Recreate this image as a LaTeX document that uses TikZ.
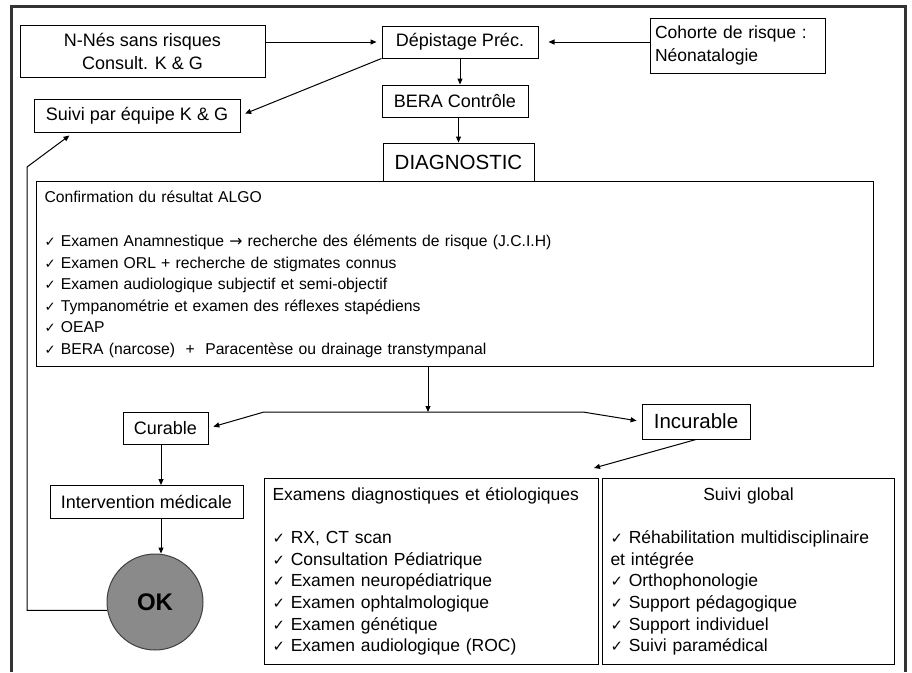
\documentclass[tikz,border=0pt]{standalone}
\usepackage{fontspec}
\setmainfont{Liberation Sans}
\newfontfamily\symfont{DejaVu Sans}
\usepackage{graphicx}
\usepackage{xcolor}
\definecolor{cLine}{HTML}{000000}
\definecolor{cFrame}{HTML}{333333}
\definecolor{cDisc}{HTML}{8A8A8A}
\usepackage{tikz}
\usetikzlibrary{positioning,arrows.meta,calc}
\newcommand\chk{\scalebox{0.85}{\symfont ✓}}
\newcommand\toarr{{\symfont →}}
\tikzset{
  node-box/.style={draw=cLine,line width=1pt,inner sep=0pt,align=center,
    font=\fontsize{18}{23}\selectfont},
  node-big/.style={node-box,font=\fontsize{20.5}{24}\selectfont},
  node-list/.style={draw=cLine,line width=1pt,anchor=north west,align=left,
    inner ysep=7pt,font=\fontsize{17.5}{21.6}\selectfont},
  node-ok/.style={draw=cLine!75,line width=1pt,circle,fill=cDisc,
    minimum size=96pt,font=\fontsize{24}{24}\selectfont\bfseries},
  arrow/.style={-{Triangle[length=6pt,width=5pt]},line width=1pt,draw=cLine},
  arrow-gap/.style={arrow,shorten >=5pt},
  frame/.style={draw=cFrame,line width=3pt},
}
\begin{document}
\begin{tikzpicture}[x=1pt,y=-1pt]
  \useasboundingbox (0,0) rectangle (912,672);
  \draw[frame] (11,672) -- (11,6) -- (905,6) -- (905,672);
  % depistage
  \node[node-box,minimum width=245pt,minimum height=52pt] (nn) at (142.5,51)
    {N-Nés sans risques\\Consult. K \& G};
  \node[node-box,minimum width=156pt,minimum height=32pt] (dep) at (460,42)
    {Dépistage Préc.};
  \node[node-box,align=left,text width=165pt,inner xsep=5pt,
    minimum height=55pt,font=\fontsize{17.5}{23}\selectfont] (coh)
    at (737.5,45.5) {\mbox{Cohorte de risque :}\\Néonatalogie};
  \node[node-box,minimum width=206pt,minimum height=33pt] (suivi)
    at (137,115.5) {Suivi par équipe K \& G};
  \node[node-box,minimum width=146pt,minimum height=32pt] (bera)
    at (455,101) {BERA Contrôle};
  \node[node-big,minimum width=151pt,minimum height=38pt] (diag)
    at (458.5,162) {DIAGNOSTIC};
  % confirmation
  \node[node-list,text width=821pt,inner xsep=8pt,inner ysep=9pt,
    font=\fontsize{15.7}{21.5}\selectfont] (conf) at (36,181)
    {Confirmation du résultat ALGO\\[23pt]
     \chk\ Examen Anamnestique \toarr\ recherche des éléments de risque (J.C.I.H)\\
     \chk\ Examen ORL + recherche de stigmates connus\\
     \chk\ Examen audiologique subjectif et semi-objectif\\
     \chk\ Tympanométrie et examen des réflexes stapédiens\\
     \chk\ OEAP\\
     \chk\ BERA (narcose)\ \ +\ \ Paracentèse ou drainage transtympanal};
  \coordinate (split) at (428,412);
  \coordinate (cl) at (264,412);
  \coordinate (cr) at (583,412);
  \coordinate (col) at (161,0);
  \coordinate (bend) at (27,167);
  % issues
  \node[node-box,minimum width=85pt,minimum height=32pt] (cur)
    at (165.5,428) {Curable};
  \node[node-big,minimum width=108pt,minimum height=35pt] (inc)
    at (696,421.5) {Incurable};
  \node[node-box,minimum width=193pt,minimum height=33pt] (interv)
    at (146.5,502) {Intervention médicale};
  \node[node-ok] (ok) at (155,602) {OK};
  \node[node-list,text width=318pt,inner xsep=8pt,minimum height=186pt]
    (exam) at (264,478)
    {\mbox{Examens diagnostiques et étiologiques}\\[21.6pt]
     \chk\ RX, CT scan\\
     \chk\ Consultation Pédiatrique\\
     \chk\ Examen neuropédiatrique\\
     \chk\ Examen ophtalmologique\\
     \chk\ Examen génétique\\
     \chk\ Examen audiologique (ROC)};
  \node[node-list,text width=276pt,inner xsep=8pt,minimum height=186pt]
    (sg) at (602,478)
    {\makebox[276pt]{Suivi global}\\[21.6pt]
     \chk\ Réhabilitation multidisciplinaire\\
     et intégrée\\
     \chk\ Orthophonologie\\
     \chk\ Support pédagogique\\
     \chk\ Support individuel\\
     \chk\ Suivi paramédical};
  % fleches
  \draw[arrow-gap] (nn.east |- dep.west) -- (dep.west);
  \draw[arrow-gap,shorten >=10pt] (coh.west |- dep.east) -- (dep.east);
  \draw[arrow-gap] (dep.south west) -- (suivi.east);
  \draw[arrow] (dep.south) -- (dep.south |- bera.north);
  \draw[arrow] (bera.south -| diag.north) -- (diag.north);
  \draw[arrow] (conf.south -| split) -- (split);
  \draw[arrow-gap] (cl) -- (cur.east);
  \draw[arrow-gap] (cl) -- (cr) -- (inc.west);
  \draw[arrow] (cur.south -| col) -- (interv.north -| col);
  \draw[arrow] (interv.south -| col) -- (ok.north -| col);
  \draw[arrow-gap] (ok.190) -| (bend) -- ($(suivi.south west)+(40,0)$);
  \draw[arrow] (inc.south) -- ($(exam.north east)+(-5,-10)$);
\end{tikzpicture}
\end{document}
